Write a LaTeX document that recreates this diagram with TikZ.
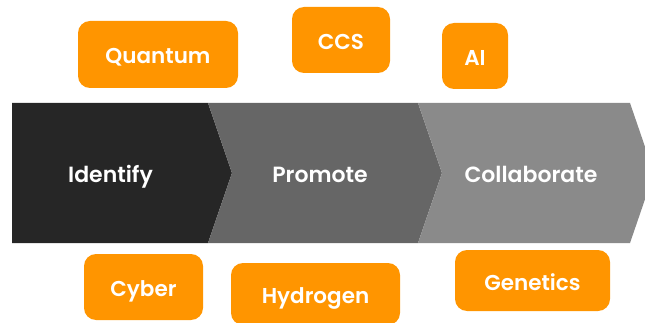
\documentclass[tikz,border=0pt]{standalone}
\usepackage{fontspec}
\setmainfont{Poppins}[BoldFont={Poppins SemiBold}]
\definecolor{tagorange}{HTML}{FF9500}
\definecolor{stepdark}{HTML}{262626}
\definecolor{stepmid}{HTML}{666666}
\definecolor{steplight}{HTML}{8A8A8A}
\tikzset{
  tagbox/.style={fill=tagorange, text=white, rounded corners=12pt, inner sep=0pt,
    text height=19pt, text depth=0pt, font=\fontsize{21.5}{25}\selectfont\bfseries},
  steplabel/.style={text=white, text height=19pt, text depth=0pt,
    font=\fontsize{22}{25}\selectfont\bfseries}
}
\begin{document}
\begin{tikzpicture}[x=1pt,y=-1pt]
\useasboundingbox (0,0) rectangle (645,323);
\clip (0,0) rectangle (645,323);

% the three steps
\fill[stepdark] (12,103) -- (208,103) -- (232,173) -- (208,243) -- (12,243) -- cycle;
\fill[stepmid] (208,103) -- (418,103) -- (442,173) -- (418,243) -- (208,243) -- (232,173) -- cycle;
\fill[steplight] (418,103) -- (630,103) -- (654,173) -- (630,243) -- (418,243) -- (442,173) -- cycle;

\node[steplabel] (identify) at (110.5,173) {Identify};
\node[steplabel] (promote) at (320,173) {Promote};
\node[steplabel] (collaborate) at (531,173) {Collaborate};

% topics above
\node[tagbox, minimum width=160pt, minimum height=67pt] (quantum) at (158,54.5) {Quantum};
\node[tagbox, minimum width=98pt, minimum height=66pt] (ccs) at (341,40) {CCS};
\node[tagbox, minimum width=66pt, minimum height=66pt] (ai) at (475,56) {AI};

% topics below
\node[tagbox, minimum width=119pt, minimum height=66pt] (cyber) at (143.5,287) {Cyber};
\node[tagbox, minimum width=169pt, minimum height=62pt] (hydrogen) at (315.5,294) {Hydrogen};
\node[tagbox, minimum width=155pt, minimum height=61pt] (genetics) at (532.5,280.5) {Genetics};
\end{tikzpicture}
\end{document}
